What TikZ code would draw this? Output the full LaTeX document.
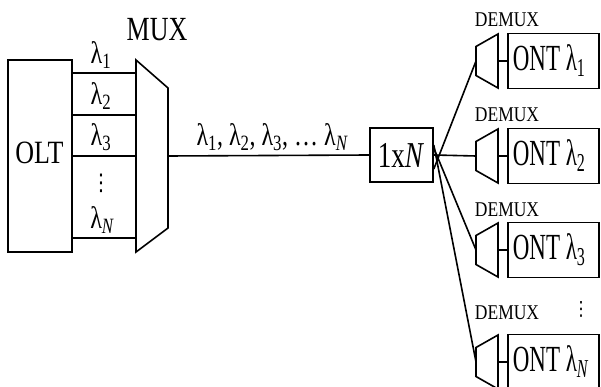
\documentclass[tikz,border=0pt]{standalone}
\usepackage{fontspec}
\setmainfont{Liberation Serif}
\newfontfamily\dvsans{DejaVu Sans}
\usepackage{graphicx}
\newcommand{\VS}[2]{\scalebox{1}[#1]{#2}}
\newcommand{\lam}[1]{λ\textsubscript{#1}}
\begin{document}
\begin{tikzpicture}[x=1pt,y=-1pt,line width=1.6pt,
  box/.style={draw,rectangle,inner sep=0pt},
  trap/.style={draw,line join=miter},
  wire/.style={draw},
  bigtxt/.style={font=\fontsize{26}{26}\selectfont,inner sep=0pt},
  lamtxt/.style={font=\fontsize{24}{24}\selectfont,inner sep=0pt},
  dottxt/.style={font=\dvsans\fontsize{20}{20}\selectfont,inner sep=0pt},
  onttxt/.style={font=\fontsize{23}{23}\selectfont,inner sep=0pt},
  dmxtxt/.style={font=\fontsize{17.5}{17.5}\selectfont,inner sep=0pt}]
\useasboundingbox (0,0) rectangle (601,387);
% OLT
\node[box,minimum width=64pt,minimum height=192pt] (olt) at (40,156) {};
\node[bigtxt] (oltlbl) at (39.5,153) {\VS{1.25}{OLT}};
% MUX
\coordinate (mA) at (136,60);
\coordinate (mB) at (168,88);
\coordinate (mC) at (168,228);
\coordinate (mD) at (136,252);
\draw[trap] (mA) -- (mB) -- (mC) -- (mD) -- cycle;
\coordinate (mout) at (168,156);
\node[bigtxt] (muxlbl) at (157,30) {\VS{1.3}{MUX}};
\coordinate (m1) at (136,73);
\coordinate (m2) at (136,115);
\coordinate (m3) at (136,156);
\coordinate (m4) at (136,238);
\foreach \i in {1,2,3,4} \draw[wire] (olt.east |- m\i) -- (m\i);
\node[lamtxt] (l1) at (101,55) {\VS{1.3}{\lam{1}}};
\node[lamtxt] (l2) at (101,96) {\VS{1.3}{\lam{2}}};
\node[lamtxt] (l3) at (101,137) {\VS{1.3}{\lam{3}}};
\node[dottxt] (ld) at (101,183) {\VS{1.15}{⋮}};
\node[lamtxt] (lN) at (102,220) {\VS{1.3}{\lam{\itshape N}}};
% splitter
\node[box,minimum width=63pt,minimum height=54pt] (spl) at (401.5,155) {};
\node[bigtxt,font=\fontsize{27}{27}\selectfont] (spltxt) at (401,155) {\VS{1.35}{1x\textit{N}}};
\draw[wire] (mout) -- (spl.west);
\node[lamtxt] (trunk) at (272,137) {\VS{1.3}{\lam{1}, \lam{2}, \lam{3}, \dots\ \lam{\itshape N}}};
% demux + ONT
\foreach \k/\c/\t/\dl in {1/61/\lam{1}/41, 2/156/\lam{2}/41, 3/250/\lam{3}/40, 4/362/\lam{\itshape N}/49} {
  \coordinate (dl\k) at (476,\c);
  \draw[trap] (476,\c-14.5) -- (498,\c-27) -- (498,\c+27) -- (476,\c+14.5) -- cycle;
  \coordinate (dr\k) at (498,\c);
  \node[box,minimum width=91pt,minimum height=55pt] (ont\k) at (553.5,\c) {};
  \draw[wire] (dr\k) -- (ont\k.west);
  \node[onttxt,anchor=west] (ontt\k) at (512,\c) {\VS{1.6}{ONT \t}};
  \node[dmxtxt] (dmx\k) at (507,\c-\dl) {\VS{1.2}{DEMUX}};
}
\draw[wire] ([yshift=-14pt]spl.east) -- (dl1);
\draw[wire] (spl.east) -- (dl2);
\draw[wire] ([yshift=7pt]spl.east) -- (dl3);
\draw[wire] ([yshift=10pt]spl.east) -- (dl4);
\node[dottxt,font=\dvsans\fontsize{17}{17}\selectfont] (vd) at (581,309) {\VS{1.15}{⋮}};
\end{tikzpicture}
\end{document}
